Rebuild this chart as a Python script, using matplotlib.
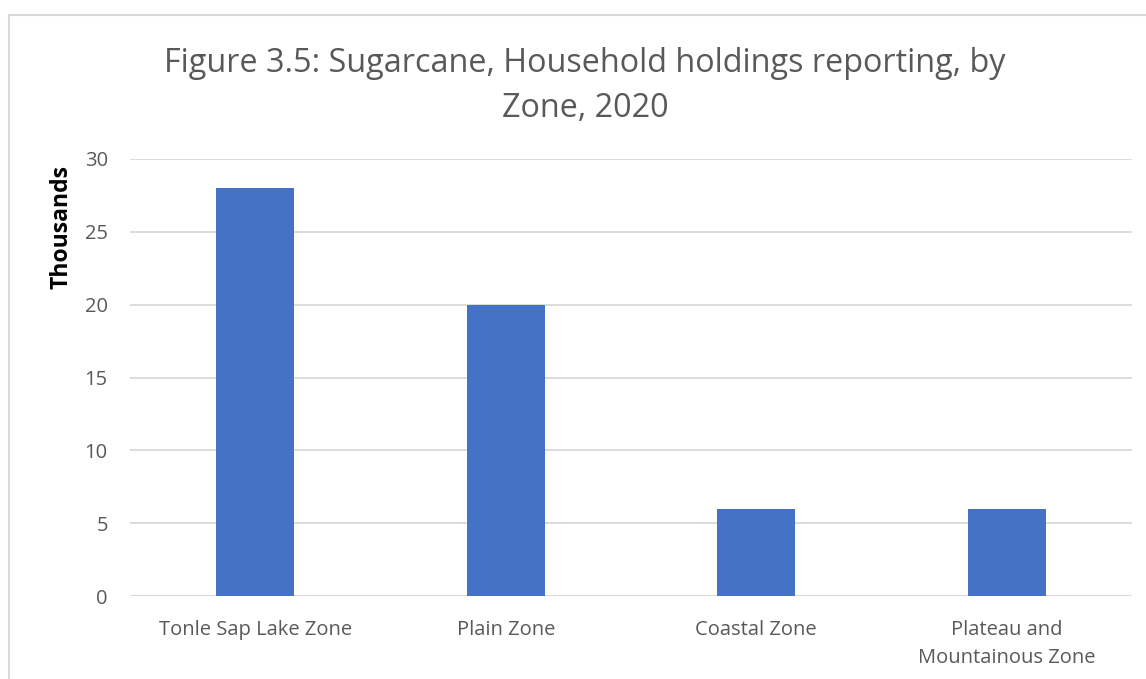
import matplotlib.pyplot as plt
from matplotlib.patches import Rectangle

zones = ['Tonle Sap Lake Zone', 'Plain Zone', 'Coastal Zone', 'Plateau and\nMountainous Zone']
households = [28, 20, 6, 6]
yticks = [0, 5, 10, 15, 20, 25, 30]
title_lines = ['Figure 3.5: Sugarcane, Household holdings reporting, by', 'Zone, 2020']

plt.rcParams['font.family'] = ['Open Sans', 'DejaVu Sans']

W, H = 1146, 679
fig = plt.figure(figsize=(W / 100, H / 100), dpi=100)
ax = fig.add_axes([130 / W, 1 - 596 / H, (1132 - 130) / W, (596 - 159) / H])

# chart frame like the office chart border
fig.patches.append(Rectangle((9 / W, -0.1), 1.2, 1 - 15 / H + 0.1, transform=fig.transFigure,
                             fill=False, edgecolor='#d9d9d9', linewidth=1.5))

x = range(len(zones))
ax.bar(x, households, width=0.311, color='#4472c4', zorder=3)
ax.set_xlim(-0.5, len(zones) - 0.5)
ax.set_ylim(0, 30)
ax.set_yticks(yticks)
ax.set_xticks(list(x))
ax.set_xticklabels(zones, fontsize=14.5, color='#595959', linespacing=1.55)
ax.tick_params(axis='y', labelsize=14.5, labelcolor='#595959', length=0, pad=16)
ax.tick_params(axis='x', length=0, pad=17)
ax.yaxis.grid(True, color='#d9d9d9', linewidth=1.3, zorder=0)
for s in ax.spines.values():
    s.set_visible(False)
ax.axhline(0, color='#d9d9d9', linewidth=1.3, zorder=2)

fig.text(62 / W, 1 - 227 / H, 'Thousands', rotation=90, ha='center', va='center',
         fontsize=16.5, fontweight='bold', color='black')
fig.text(585 / W, 1 - 72 / H, title_lines[0], ha='center', va='baseline', fontsize=23.3, color='#595959')
fig.text(585 / W, 1 - 117 / H, title_lines[1], ha='center', va='baseline', fontsize=23.3, color='#595959')

fig.savefig('out.png', dpi=100)
